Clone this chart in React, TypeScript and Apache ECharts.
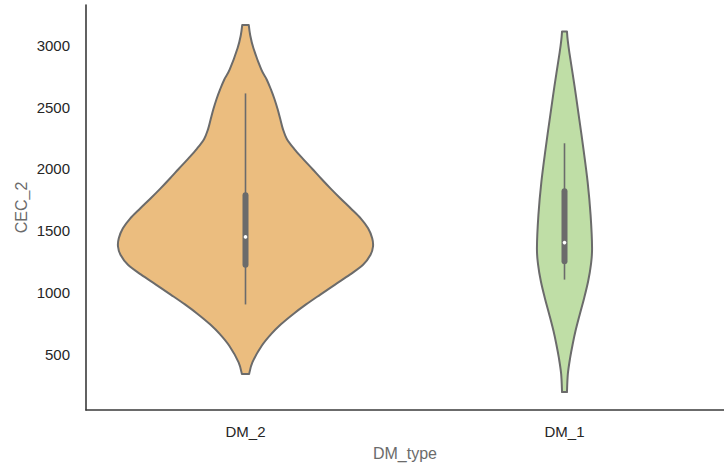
import React, { useEffect, useRef } from "react";
import * as echarts from "echarts";

const categories = ["DM_2", "DM_1"];

// Violin outline: values (CEC_2) and half-widths as a fraction of the category band
const dm2Values = [3166, 3086, 2979, 2805, 2724, 2644, 2564, 2484, 2403, 2322, 2242, 2162, 2081, 2001, 1920, 1840, 1760, 1679, 1599, 1518, 1438, 1371, 1304, 1223, 1143, 1063, 982, 902, 821, 741, 661, 567, 433, 339];
const dm2Widths = [0.0102, 0.0145, 0.0247, 0.0494, 0.0664, 0.0796, 0.0910, 0.1006, 0.1090, 0.1173, 0.1296, 0.1525, 0.1802, 0.2090, 0.2377, 0.2670, 0.2978, 0.3302, 0.3611, 0.3843, 0.3972, 0.3997, 0.3920, 0.3685, 0.3272, 0.2809, 0.2346, 0.1898, 0.1481, 0.1111, 0.0802, 0.0509, 0.0216, 0.0114];

const dm1Values = [3113, 3046, 2939, 2670, 2403, 2162, 1894, 1625, 1358, 1223, 1090, 955, 821, 688, 580, 473, 339, 192];
const dm1Widths = [0.0077, 0.0099, 0.0154, 0.0315, 0.0463, 0.0593, 0.0725, 0.0818, 0.0864, 0.0827, 0.0741, 0.0617, 0.0478, 0.0346, 0.0256, 0.0179, 0.0105, 0.0077];

// Inner box plot
const whiskerLow = [902, 1103];
const whiskerHigh = [2611, 2207];
const q1 = [1223, 1251];
const q3 = [1786, 1818];
const medians = [1449, 1403];

const yTicks = [500, 1000, 1500, 2000, 2500, 3000];
const fills = ["#ebbd7f", "#bfdea6"];

const profiles = [
  { values: dm2Values, widths: dm2Widths },
  { values: dm1Values, widths: dm1Widths },
];

// Catmull-Rom spline through the given points, as cubic Bezier segments
function splineSegments(pts: number[][]): string {
  let d = "";
  for (let i = 0; i < pts.length - 1; i++) {
    const p0 = pts[i - 1] || pts[i];
    const p1 = pts[i];
    const p2 = pts[i + 1];
    const p3 = pts[i + 2] || pts[i + 1];
    const c1x = p1[0] + (p2[0] - p0[0]) / 6;
    const c1y = p1[1] + (p2[1] - p0[1]) / 6;
    const c2x = p2[0] - (p3[0] - p1[0]) / 6;
    const c2y = p2[1] - (p3[1] - p1[1]) / 6;
    d += ` C ${c1x} ${c1y} ${c2x} ${c2y} ${p2[0]} ${p2[1]}`;
  }
  return d;
}

export default function App() {
  const ref = useRef<HTMLDivElement>(null);
  useEffect(() => {
    document.body.style.margin = "0";
    const chart = echarts.init(ref.current!, null, { renderer: "svg" });
    const font = "'Liberation Sans', Arial, sans-serif";
    const option: any = {
      animation: false,
      backgroundColor: "#ffffff",
      grid: { left: 86, right: -10, top: 5, bottom: 53, containLabel: false },
      xAxis: {
        type: "category",
        data: categories,
        boundaryGap: true,
        name: "DM_type",
        nameLocation: "middle",
        nameGap: 35,
        nameMoveOverlap: false,
        nameTextStyle: { color: "#6b6b6b", fontSize: 16, fontFamily: font },
        axisLine: { show: true, lineStyle: { color: "#3a3a3a", width: 1.6 } },
        axisTick: { show: false },
        axisLabel: { color: "#262626", fontSize: 15, fontFamily: font, margin: 14 },
        splitLine: { show: false },
      },
      yAxis: {
        type: "value",
        min: 47,
        max: 3327,
        name: "CEC_2",
        nameLocation: "middle",
        nameGap: 57,
        nameMoveOverlap: false,
        nameTextStyle: { color: "#6b6b6b", fontSize: 16, fontFamily: font },
        axisLine: { show: true, lineStyle: { color: "#3a3a3a", width: 1.6 } },
        axisTick: { show: false },
        axisLabel: {
          color: "#262626",
          fontSize: 15,
          fontFamily: font,
          margin: 16,
          customValues: yTicks,
          formatter: (v: number) => String(v),
        },
        splitLine: { show: false },
      },
      series: [
        {
          type: "custom",
          data: categories.map((_, i) => [i, medians[i]]),
          encode: { x: 0, y: 1 },
          renderItem: (params: any, api: any) => {
            const i = api.value(0);
            const p = profiles[i];
            const band = api.size([1, 0])[0];
            const cx = api.coord([i, 0])[0];
            const left = p.values.map((v, k) => [cx - p.widths[k] * band, api.coord([i, v])[1]]);
            const right = p.values
              .map((v, k) => [cx + p.widths[k] * band, api.coord([i, v])[1]])
              .reverse();
            let d = `M ${left[0][0]} ${left[0][1]}`;
            d += splineSegments(left);
            d += ` L ${right[0][0]} ${right[0][1]}`;
            d += splineSegments(right);
            d += " Z";
            const yLo = api.coord([i, whiskerLow[i]])[1];
            const yHi = api.coord([i, whiskerHigh[i]])[1];
            const yQ1 = api.coord([i, q1[i]])[1];
            const yQ3 = api.coord([i, q3[i]])[1];
            const yMed = api.coord([i, medians[i]])[1];
            return {
              type: "group",
              children: [
                {
                  type: "path",
                  shape: { pathData: d },
                  style: { fill: fills[i], stroke: "#6b6b6b", lineWidth: 2, lineJoin: "round" },
                },
                {
                  type: "line",
                  shape: { x1: cx, y1: yHi, x2: cx, y2: yLo },
                  style: { stroke: "#6b6b6b", lineWidth: 1.6 },
                },
                {
                  type: "line",
                  shape: { x1: cx, y1: yQ3, x2: cx, y2: yQ1 },
                  style: { stroke: "#6b6b6b", lineWidth: 6, lineCap: "round" },
                },
                {
                  type: "circle",
                  shape: { cx: cx, cy: yMed, r: 1.8 },
                  style: { fill: "#ffffff" },
                },
              ],
            };
          },
        },
      ],
    };
    chart.setOption(option);
    return () => chart.dispose();
  }, []);
  return (
    <div
      ref={ref}
      style={{ position: "absolute", left: 0, top: 0, width: 724, height: 466 }}
    />
  );
}
